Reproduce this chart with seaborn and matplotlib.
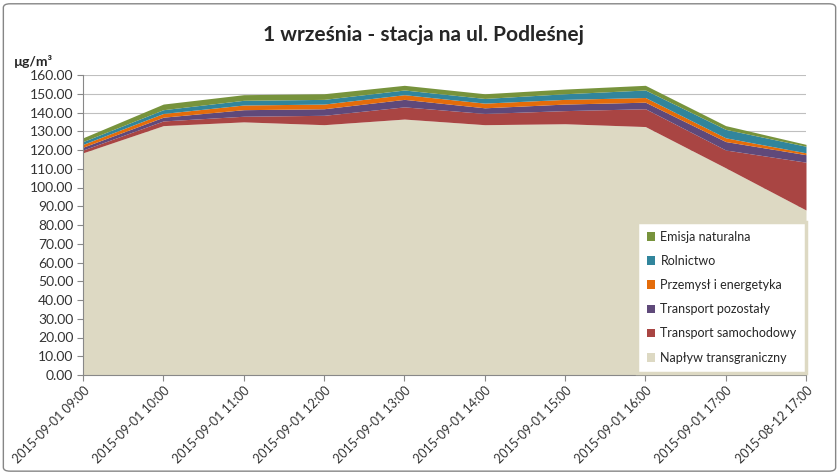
import numpy as np
import pandas as pd
import matplotlib
matplotlib.use("Agg")
import matplotlib.pyplot as plt
import seaborn as sns
from matplotlib.patches import Patch, FancyBboxPatch

# ── data ─────────────────────────────────────────────────────────────────────
TIMES = ["2015-09-01 09:00", "2015-09-01 10:00", "2015-09-01 11:00",
         "2015-09-01 12:00", "2015-09-01 13:00", "2015-09-01 14:00",
         "2015-09-01 15:00", "2015-09-01 16:00", "2015-09-01 17:00",
         "2015-08-12 17:00"]

naplyw     = [118.5, 133.0, 135.0, 133.5, 136.5, 133.5, 134.0, 132.5, 110.5, 88.0]
samochody  = [1.5, 2.5, 3.0, 5.0, 6.5, 6.0, 7.0, 9.5, 9.5, 25.5]
pozostaly  = [1.5, 2.0, 3.5, 3.5, 4.0, 3.0, 3.5, 3.5, 4.5, 4.0]
przemysl   = [1.5, 2.0, 2.5, 2.5, 2.5, 2.5, 2.5, 2.5, 2.0, 1.0]
rolnictwo  = [1.5, 2.0, 2.5, 2.5, 2.5, 2.5, 3.0, 4.0, 4.5, 3.5]
emisja     = [2.0, 3.0, 3.0, 3.0, 2.5, 2.5, 2.5, 2.5, 2.0, 1.0]

SERIES = ["Napływ transgraniczny", "Transport samochodowy", "Transport pozostały",
          "Przemysł i energetyka", "Rolnictwo", "Emisja naturalna"]
COLORS = ["#DDD9C3", "#A94543", "#5F497A", "#E46C0A", "#31859C", "#77933C"]

df = pd.DataFrame(dict(zip(SERIES, [naplyw, samochody, pozostaly,
                                    przemysl, rolnictwo, emisja])), index=TIMES)

# ── style ────────────────────────────────────────────────────────────────────
sns.set_theme(style="white")
plt.rcParams["font.family"] = ["Lato", "DejaVu Sans"]

fig = plt.figure(figsize=(8.39, 4.74), dpi=100)
ax = fig.add_axes([83 / 839, 1 - 375 / 474, (806 - 83) / 839, (375 - 75) / 474])

x = np.arange(len(TIMES))
ax.stackplot(x, df.T.values, colors=COLORS, labels=SERIES, linewidth=0)

ax.set_xlim(0, len(TIMES) - 1)
ax.set_ylim(0, 160)
ax.set_yticks(np.arange(0, 161, 10))
ax.set_yticklabels([f"{v:.2f}" for v in np.arange(0, 161, 10)], fontsize=10, color="#333333")
ax.set_xticks(x)
ax.set_xticklabels(TIMES, rotation=45, ha="right", rotation_mode="anchor",
                   fontsize=9, color="#333333")
ax.tick_params(axis="both", direction="out", length=4, width=0.8, color="#888888",
               bottom=True, left=True, pad=3)
ax.yaxis.grid(True, color="#BFBFBF", linewidth=0.8)
ax.set_axisbelow(True)
for side in ["top", "right"]:
    ax.spines[side].set_visible(False)
for side in ["left", "bottom"]:
    ax.spines[side].set_color("#888888")
    ax.spines[side].set_linewidth(0.8)

# unit label and title
fig.text(14 / 839, 1 - 62 / 474, "µg/m³", fontsize=10, fontweight="bold",
         ha="left", va="center")
fig.text(0.505, 1 - 35 / 474, "1 września - stacja na ul. Podleśnej",
         fontsize=15, fontweight="bold", ha="center", va="center")

# legend (reverse order, inside lower right)
handles = [Patch(facecolor=c, edgecolor="none") for c in COLORS][::-1]
leg = ax.legend(handles, SERIES[::-1], loc="lower right",
                bbox_to_anchor=(1.0, 0.007), fontsize=9, frameon=True,
                fancybox=False, handlelength=0.7, handleheight=0.7,
                handletextpad=0.4, labelspacing=0.97, borderpad=0.75,
                borderaxespad=0.0)
leg.get_frame().set_edgecolor("#DDD9C3")
leg.get_frame().set_linewidth(2.5)
leg.get_frame().set_facecolor("white")
leg.get_frame().set_alpha(1)

# outer chart border
border = FancyBboxPatch((0.004, 0.006), 0.992, 0.986, boxstyle="round,pad=0,rounding_size=0.008",
                        transform=fig.transFigure, fill=False, edgecolor="#868686",
                        linewidth=1.0, zorder=-1)
fig.patches.append(border)

fig.savefig("out.png", dpi=100)
